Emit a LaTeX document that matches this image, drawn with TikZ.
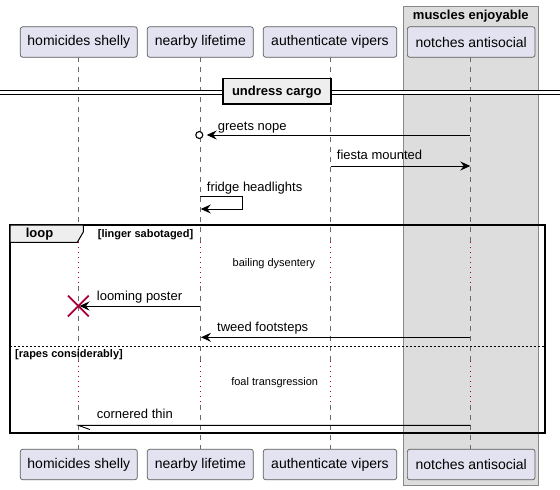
\documentclass[tikz,border=0pt]{standalone}
\usepackage{fontspec}
\setmainfont{Liberation Sans}
\usetikzlibrary{arrows.meta,shapes.misc}
\definecolor{partfill}{HTML}{E2E2F0}
\definecolor{partdraw}{HTML}{5A5A5A}
\definecolor{grpfill}{HTML}{DDDDDD}
\definecolor{grpdraw}{HTML}{888888}
\definecolor{tabfill}{HTML}{EEEEEE}
\definecolor{lifegray}{HTML}{6A6A6A}
\definecolor{dlred}{HTML}{A80036}
\begin{document}
\begin{tikzpicture}[x=1pt,y=-1pt,
  part/.style={draw=partdraw,fill=partfill,rounded corners=2.5pt,line width=0.7pt,
    minimum height=30.5pt,inner sep=0pt,font=\fontsize{14}{16}\selectfont},
  lifeline/.style={draw=lifegray,line width=0.7pt,dash pattern=on 5pt off 5pt},
  delayline/.style={draw=dlred,line width=0.8pt,dash pattern=on 1pt off 4pt},
  msg/.style={line width=0.9pt,-{Stealth[length=10pt,width=9pt,inset=3.5pt]}},
  plainmsg/.style={line width=0.9pt},
  lbl/.style={anchor=west,inner sep=0pt,font=\fontsize{13}{15}\selectfont,text height=9.5pt,text depth=2.5pt},
  note/.style={inner sep=0pt,font=\fontsize{11}{13}\selectfont},
  boldlbl/.style={inner sep=0pt,font=\bfseries\fontsize{13}{15}\selectfont,text height=9.5pt,text depth=2.5pt},
  guard/.style={anchor=west,inner sep=0pt,font=\bfseries\fontsize{11}{13}\selectfont,text height=8pt,text depth=2pt}]
\useasboundingbox (0,0) rectangle (560,490);
\fill[white] (0,0) rectangle (560,490);

% group box
\draw[draw=grpdraw,fill=grpfill,line width=0.8pt] (403.3,6) rectangle (538.3,485);
\node[boldlbl] (grp) at (470.8,15.5) {muscles enjoyable};

% lifelines
\foreach \n/\x in {hs/78.3,nl/200.3,av/330.7,na/470.3}{
  \coordinate (\n-t) at (\x,57);
  \coordinate (\n-d1a) at (\x,242);
  \coordinate (\n-d1b) at (\x,286);
  \coordinate (\n-d2a) at (\x,361);
  \coordinate (\n-d2b) at (\x,405);
  \coordinate (\n-b) at (\x,449);
  \draw[lifeline] (\n-t) -- (\n-d1a);
  \draw[delayline] (\n-d1a) -- (\n-d1b);
  \draw[lifeline] (\n-d1b) -- (\n-d2a);
  \draw[delayline] (\n-d2a) -- (\n-d2b);
  \draw[lifeline] (\n-d2b) -- (\n-b);
}

% participants
\node[part,minimum width=117pt] (hs) at (78.8,42) {homicides shelly};
\node[part,minimum width=106pt] (nl) at (200.3,42) {nearby lifetime};
\node[part,minimum width=133.4pt] (av) at (330,42) {authenticate vipers};
\node[part,minimum width=127.7pt] (na) at (471.2,42) {notches antisocial};
\node[part,minimum width=117pt] (hs2) at (78.8,464.5) {homicides shelly};
\node[part,minimum width=106pt] (nl2) at (200.3,464.5) {nearby lifetime};
\node[part,minimum width=133.4pt] (av2) at (330,464.5) {authenticate vipers};
\node[part,minimum width=127.7pt] (na2) at (471.2,464.5) {notches antisocial};

% separator
\fill[white] (0,90.5) rectangle (560,94.5);
\draw[line width=0.9pt] (0,90.5) -- (560,90.5);
\draw[line width=0.9pt] (0,94.5) -- (560,94.5);
\draw[fill=tabfill,line width=1.8pt] (222.7,78.5) rectangle (331,104);
\node[boldlbl] (sep) at (276.8,91.5) {undress cargo};

% greets nope
\coordinate (g1) at (470.3,135);
\coordinate (g2) at (206.7,135);
\node[circle,draw,fill=white,line width=1.1pt,minimum size=7pt,inner sep=0pt] (gc) at (199.3,135) {};
\draw[msg] (g1) -- (g2);
\node[lbl] (gl) at (217.7,126.7) {greets nope};

% fiesta mounted
\coordinate (f1) at (330.7,166);
\coordinate (f2) at (470.3,166);
\draw[msg] (f1) -- (f2);
\node[lbl] (fl) at (336.7,155.7) {fiesta mounted};

% fridge headlights (self)
\coordinate (s1) at (200.3,196.7);
\coordinate (s2) at (242.3,196.7);
\coordinate (s3) at (200.8,209);
\draw[msg] (s1) -- (s2) |- (s3);
\node[lbl] (sl) at (206.7,187.7) {fridge headlights};

% loop frame
\draw[line width=1.6pt] (10,225) rectangle (545,433);
\draw[fill=tabfill,line width=1pt] (10,225) -- (83.3,225) -- (83.3,232) -- (77.3,242.3) -- (10,242.3) -- cycle;
\node[boldlbl] (looplbl) at (39.5,234) {loop};
\node[guard] (g1lbl) at (97.7,234) {[linger sabotaged]};

% delay 1
\node[note] (d1) at (274,264) {bailing dysentery};

% looming poster + destroy
\coordinate (l1) at (200.3,306);
\coordinate (l2) at (79.5,306);
\draw[msg] (l1) -- (l2);
\node[cross out,draw=dlred,line width=1.8pt,minimum size=19pt,inner sep=0pt] (xd) at (78.3,306) {};
\node[lbl] (ll) at (96.7,297.3) {looming poster};

% tweed footsteps
\coordinate (t1) at (470.3,337.3);
\coordinate (t2) at (201,337.3);
\draw[msg] (t1) -- (t2);
\node[lbl] (tl) at (217,327.7) {tweed footsteps};

% else
\coordinate (e1) at (10,346);
\coordinate (e2) at (545,346);
\draw[line width=0.8pt,dash pattern=on 2pt off 2pt] (e1) -- (e2);
\node[guard] (g2lbl) at (15,354) {[rapes considerably]};

% delay 2
\node[note] (d2) at (274.7,383) {foal transgression};

% cornered thin
\coordinate (c1) at (470.3,425.3);
\coordinate (c2) at (78.3,425.3);
\coordinate (c3) at (90,429.6);
\draw[plainmsg] (c1) -- (c2) -- (c3);
\node[lbl] (cl) at (96.7,415) {cornered thin};
\end{tikzpicture}
\end{document}
